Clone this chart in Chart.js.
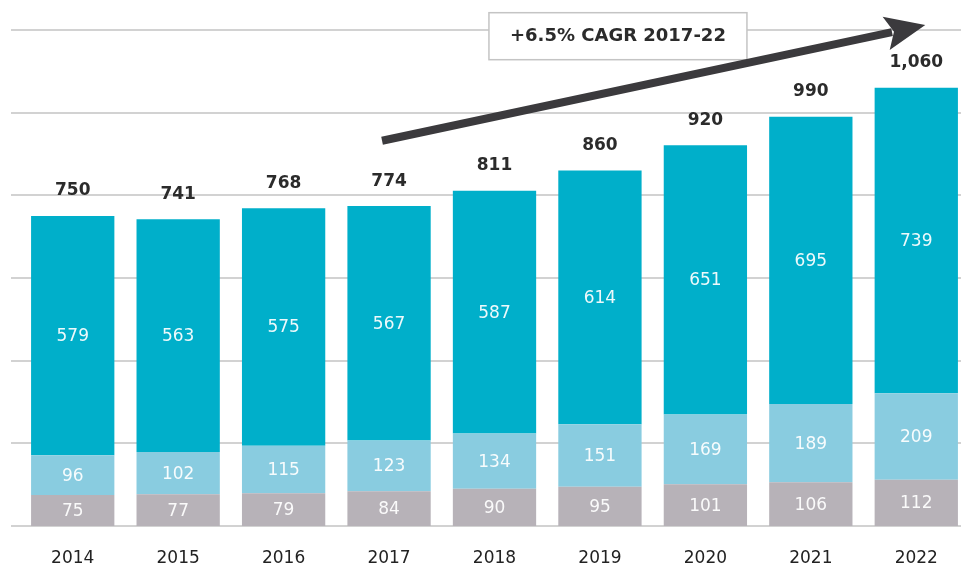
<!DOCTYPE html>
<html lang="en">
<head>
    <meta charset="UTF-8">
    <title>Market size 2014-2022</title>
    <script src="https://cdn.jsdelivr.net/npm/chart.js"></script>
    <style>
body {
    margin: 0;
    padding: 0;
    background: #fff;
    overflow: hidden;
}

.wrap {
    position: relative;
    width: 980px;
    height: 568px;
}
    </style>
</head>
<body>
    <div class="wrap">
        <canvas id="marketChart"></canvas>
    </div>
    <script>
        const years = ['2014', '2015', '2016', '2017', '2018', '2019', '2020', '2021', '2022'];
        const baseSegment = [75, 77, 79, 84, 90, 95, 101, 106, 112];
        const midSegment = [96, 102, 115, 123, 134, 151, 169, 189, 209];
        const topSegment = [579, 563, 575, 567, 587, 614, 651, 695, 739];
        const totals = [750, 741, 768, 774, 811, 860, 920, 990, 1060];
        const yTicks = [0, 200, 400, 600, 800, 1000, 1200];
        const cagrText = '+6.5% CAGR 2017-22';

        const FONT = "'DejaVu Sans', sans-serif";

        // horizontal rules, drawn a bit wider than the plot area
        const gridLines = {
            id: 'gridLines',
            beforeDatasetsDraw(chart) {
                const { ctx, scales: { y } } = chart;
                ctx.save();
                ctx.strokeStyle = '#d2d2d2';
                ctx.lineWidth = 2;
                yTicks.forEach(v => {
                    const py = Math.round(y.getPixelForValue(v));
                    ctx.beginPath();
                    ctx.moveTo(11, py);
                    ctx.lineTo(chart.width, py);
                    ctx.stroke();
                });
                ctx.restore();
            }
        };

        // values inside each segment and totals on top
        const barLabels = {
            id: 'barLabels',
            afterDatasetsDraw(chart) {
                const { ctx } = chart;
                ctx.save();
                ctx.textAlign = 'center';
                ctx.textBaseline = 'middle';
                ctx.font = '17px ' + FONT;
                ctx.fillStyle = 'rgba(255,255,255,0.93)';
                chart.data.datasets.forEach((ds, di) => {
                    chart.getDatasetMeta(di).data.forEach((bar, i) => {
                        ctx.fillText(ds.data[i], bar.x, (bar.y + bar.base) / 2 + 1);
                    });
                });
                const topMeta = chart.getDatasetMeta(chart.data.datasets.length - 1);
                ctx.font = '600 17px ' + FONT;
                ctx.fillStyle = '#2b2b2b';
                topMeta.data.forEach((bar, i) => {
                    ctx.fillText(totals[i].toLocaleString('en-US'), bar.x, bar.y - 25);
                });
                ctx.restore();
            }
        };

        // growth arrow from 2017 to 2022 with its caption box
        const cagrArrow = {
            id: 'cagrArrow',
            afterDraw(chart) {
                const { ctx, scales: { x, y } } = chart;
                const x0 = x.getPixelForValue(3) - 7, y0 = y.getPixelForValue(932);
                const x1 = x.getPixelForValue(8) + 9, y1 = y.getPixelForValue(1212);
                const len = Math.hypot(x1 - x0, y1 - y0);
                const ux = (x1 - x0) / len, uy = (y1 - y0) / len;
                const nx = -uy, ny = ux;
                const headLen = 40, headHalf = 17;
                const bx = x1 - ux * headLen, by = y1 - uy * headLen;

                ctx.save();
                // caption box
                ctx.font = 'bold 18px ' + FONT;
                const cx = x.getPixelForValue(5) + 18, cy = y.getPixelForValue(1185);
                const bw = 258, bh = 47;
                ctx.fillStyle = '#fff';
                ctx.fillRect(cx - bw / 2, cy - bh / 2, bw, bh);
                ctx.strokeStyle = '#c4c4c4';
                ctx.lineWidth = 1.5;
                ctx.strokeRect(cx - bw / 2, cy - bh / 2, bw, bh);
                ctx.fillStyle = '#2b2b2b';
                ctx.textAlign = 'center';
                ctx.textBaseline = 'middle';
                ctx.fillText(cagrText, cx, cy);

                // shaft
                ctx.strokeStyle = '#3b3a3d';
                ctx.fillStyle = '#3b3a3d';
                ctx.lineWidth = 8;
                ctx.beginPath();
                ctx.moveTo(x0, y0);
                ctx.lineTo(bx + ux * 6, by + uy * 6);
                ctx.stroke();
                // head
                ctx.beginPath();
                ctx.moveTo(x1, y1);
                ctx.lineTo(bx + nx * headHalf, by + ny * headHalf);
                ctx.lineTo(bx + ux * 8, by + uy * 8);
                ctx.lineTo(bx - nx * headHalf, by - ny * headHalf);
                ctx.closePath();
                ctx.fill();
                ctx.restore();
            }
        };

        const ctx = document.getElementById('marketChart').getContext('2d');

        const marketChart = new Chart(ctx, {
            type: 'bar',
            data: {
                labels: years,
                datasets: [
                    { label: 'Base', data: baseSegment, backgroundColor: '#b7b2b8' },
                    { label: 'Middle', data: midSegment, backgroundColor: '#89cce0' },
                    { label: 'Top', data: topSegment, backgroundColor: '#00afca' }
                ]
            },
            options: {
                responsive: true,
                maintainAspectRatio: false,
                animation: false,
                events: [],
                layout: {
                    padding: { top: 30, left: 20, right: 11, bottom: 0 }
                },
                datasets: {
                    bar: {
                        barPercentage: 0.79,
                        categoryPercentage: 1.0,
                        borderWidth: 0
                    }
                },
                plugins: {
                    legend: { display: false },
                    tooltip: { enabled: false }
                },
                scales: {
                    x: {
                        stacked: true,
                        grid: { display: false, drawTicks: false },
                        border: { display: false },
                        afterFit(scale) {
                            scale.height = 42;
                        },
                        ticks: {
                            padding: 22,
                            color: '#222',
                            font: { family: FONT, size: 17 }
                        }
                    },
                    y: {
                        stacked: true,
                        display: false,
                        min: 0,
                        max: 1200,
                        ticks: { stepSize: 200 }
                    }
                }
            },
            plugins: [gridLines, barLabels, cagrArrow]
        });
    </script>
</body>
</html>
